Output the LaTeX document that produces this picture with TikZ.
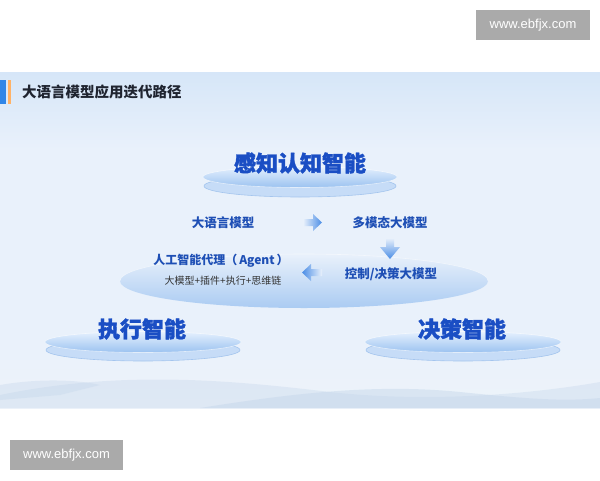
\documentclass[tikz,border=0pt]{standalone}
\usepackage{fontspec}
\setmainfont{Noto Sans CJK SC}
\newfontfamily\headfont{Noto Sans CJK SC}[BoldFeatures={FakeBold=1.6}]
\newfontfamily\wmfont{Liberation Sans}
\usetikzlibrary{shapes.geometric}
\definecolor{slidetop}{HTML}{D6E6F8}
\definecolor{slidemid}{HTML}{E9F1FB}
\definecolor{slidebot}{HTML}{EDF3FA}
\definecolor{headblue}{HTML}{1A4EC4}
\definecolor{labblue}{HTML}{1E4FB5}
\definecolor{subgray}{HTML}{333333}
\definecolor{titledark}{HTML}{1F2430}
\definecolor{wmgray}{HTML}{AAAAAA}
\definecolor{disclight}{HTML}{E6F1FE}
\definecolor{discdark}{HTML}{9BC2F0}
\definecolor{rimfill}{HTML}{C6DCF7}
\definecolor{rimedge}{HTML}{A4C5EE}
\definecolor{arrowblue}{HTML}{4A8DE6}
\definecolor{barblue}{HTML}{2F86E8}
\definecolor{wave}{HTML}{C3D5EA}
\tikzset{
  heading/.style={font=\headfont\fontsize{22}{24}\selectfont\bfseries, text=headblue, inner sep=0pt},
  label/.style={font=\fontsize{12.5}{14}\selectfont\bfseries, text=labblue, inner sep=0pt},
  sublabel/.style={font=\fontsize{10}{12}\selectfont, text=subgray, inner sep=0pt},
  watermark/.style={fill=wmgray, text=white, font=\wmfont\fontsize{13}{15}\selectfont, inner sep=0pt, minimum height=30pt},
  disctop/.style={top color=disclight, bottom color=discdark, draw=white, draw opacity=0.6, line width=0.6pt},
  discrim/.style={fill=rimfill, draw=rimedge, line width=0.6pt},
}
\begin{document}
\begin{tikzpicture}[x=1pt,y=-1pt]
\useasboundingbox (0,0) rectangle (600,480);
\fill[white] (0,0) rectangle (600,480);
% slide background
\shade[top color=slidetop, bottom color=slidemid] (0,72) rectangle (600,150);
\fill[slidemid] (0,150) rectangle (600,330);
\shade[top color=slidemid, bottom color=slidebot] (0,330) rectangle (600,408);
% bottom waves
\fill[wave, opacity=0.35] (0,395) .. controls (120,370) and (230,380) .. (330,392) .. controls (420,402) and (520,396) .. (600,382) -- (600,408) -- (0,408) -- cycle;
\fill[wave, opacity=0.45] (200,408) .. controls (300,392) and (380,384) .. (460,392) .. controls (520,398) and (560,402) .. (600,398) -- (600,408) -- cycle;
\fill[wave, opacity=0.35] (0,385) .. controls (40,378) and (80,380) .. (100,385) -- (60,395) -- (0,400) -- cycle;
% title bar accents
\fill[barblue] (0,80) rectangle (6,104);
\fill[orange!60] (8,80) rectangle (10.5,104);
\node[anchor=west, inner sep=0pt, font=\fontsize{14.5}{16}\selectfont\bfseries, text=titledark] (title) at (22,92) {大语言模型应用迭代路径};
% big middle disc
\shade[top color=slidemid, bottom color=discdark!85] (304,281) ellipse [x radius=184, y radius=27];
\draw[white, opacity=0.5, line width=0.6pt] (120,281) arc[start angle=180, end angle=360, x radius=184, y radius=27];
% top disc
\draw[discrim] (300,186) ellipse [x radius=96, y radius=11];
\shade[disctop] (300,177) ellipse [x radius=97, y radius=10.5];
% left disc
\draw[discrim] (143,350) ellipse [x radius=97, y radius=11];
\shade[disctop] (143,342) ellipse [x radius=98, y radius=10.5];
% right disc
\draw[discrim] (463,350) ellipse [x radius=97, y radius=11];
\shade[disctop] (463,342) ellipse [x radius=98, y radius=10.5];
% headings
\node[heading] (perc) at (300,163) {感知认知智能};
\node[heading] (exec) at (142,329) {执行智能};
\node[heading] (dec) at (462,329) {决策智能};
% labels
\node[label] (llm) at (223,223) {大语言模型};
\node[label] (mm) at (390,223) {多模态大模型};
\node[label] (ctrl) at (391,274) {控制/决策大模型};
\node[label, font=\fontsize{12}{14}\selectfont\bfseries] (agent) at (221,261) {人工智能代理（\,Agent\,）};
\node[sublabel] (agentsub) at (223,281) {大模型+插件+执行+思维链};
% arrows
\shade[left color=slidemid, right color=arrowblue] (303,219) -- (313,219) -- (313,214) -- (322,222.5) -- (313,231) -- (313,226) -- (303,226) -- cycle;
\shade[top color=slidemid, bottom color=arrowblue] (386,238) -- (394,238) -- (394,247) -- (400,247) -- (390,259) -- (380,247) -- (386,247) -- cycle;
\shade[right color=slidemid, left color=arrowblue] (322,269) -- (311,269) -- (311,264) -- (302,272.5) -- (311,281) -- (311,276) -- (322,276) -- cycle;
% watermarks
\node[watermark, minimum width=114pt] (wm1) at (533,25) {www.ebfjx.com};
\node[watermark, minimum width=113pt] (wm2) at (66.5,455) {www.ebfjx.com};
\end{tikzpicture}
\end{document}
